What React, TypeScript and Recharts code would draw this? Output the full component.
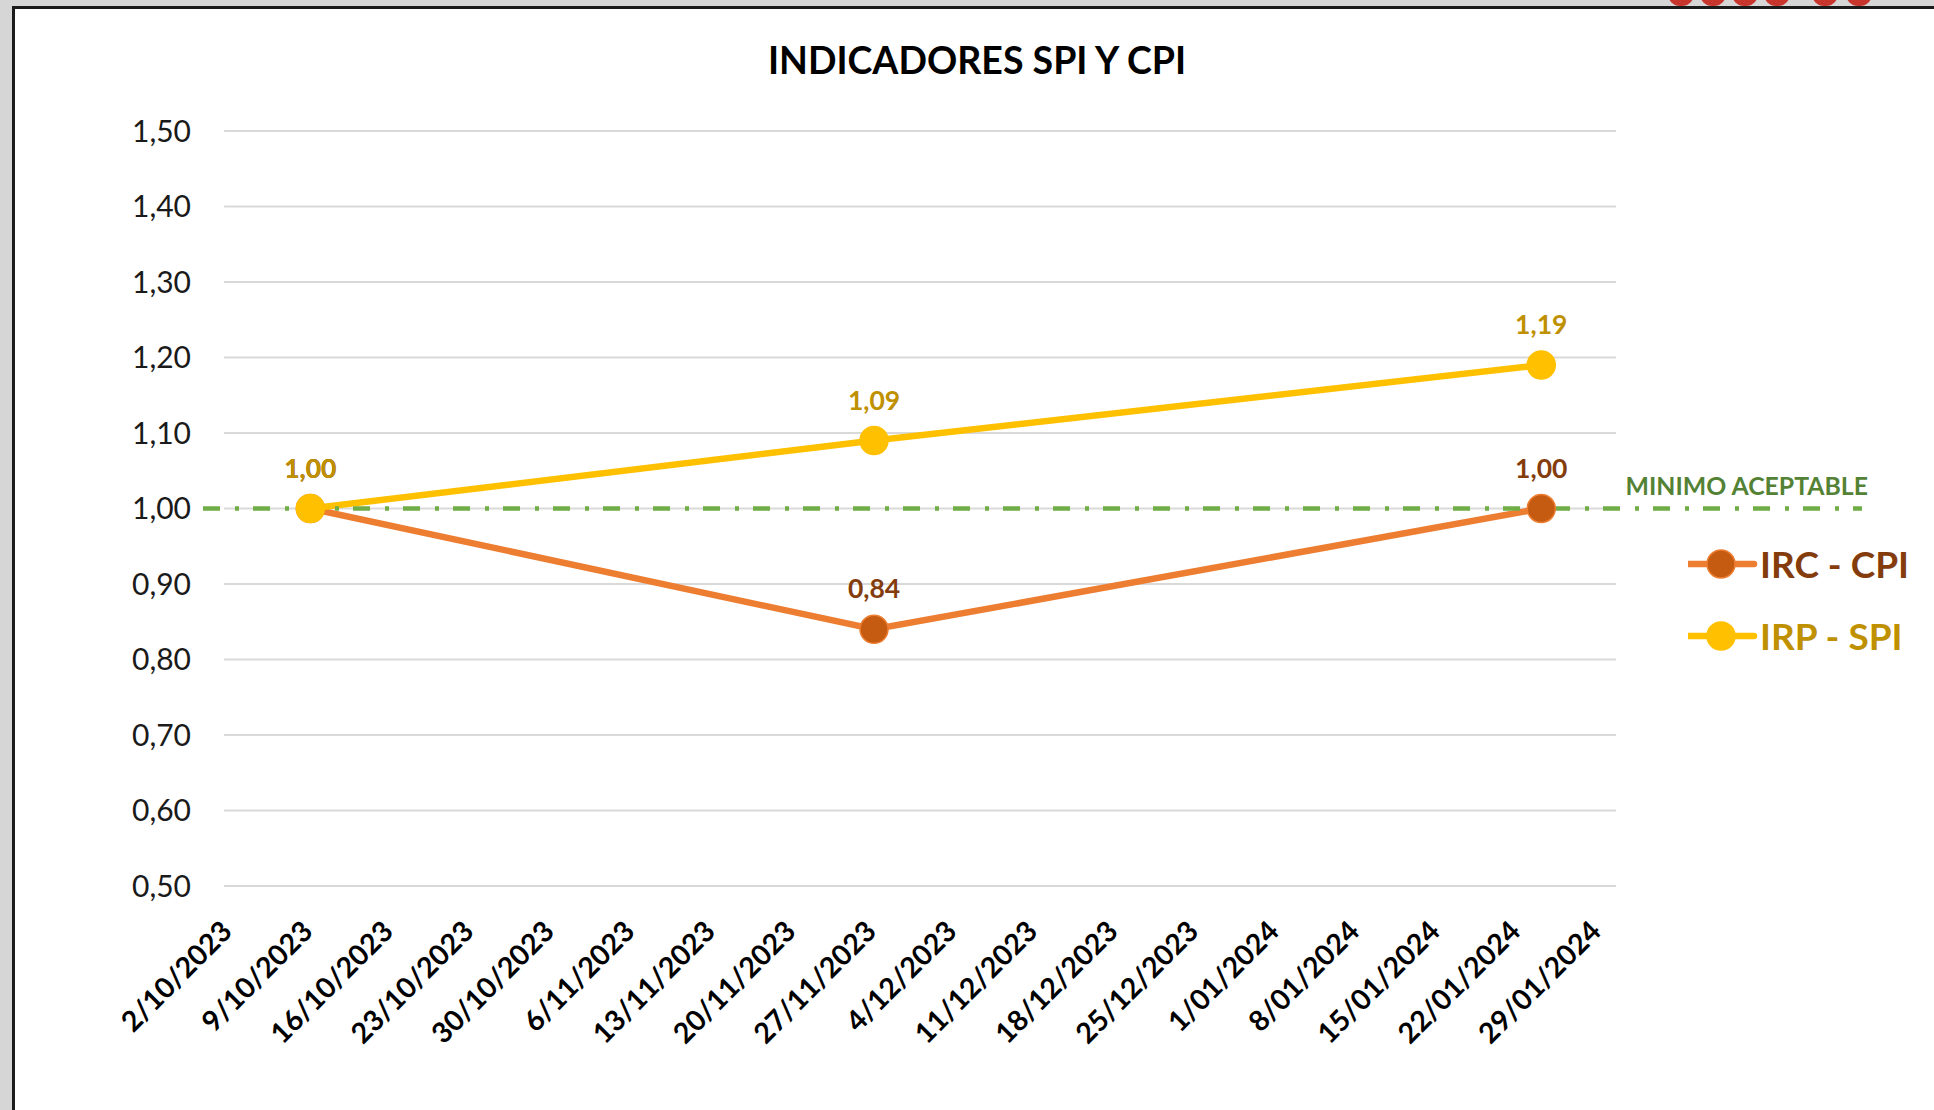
import React from 'react';
import { LineChart, Line, XAxis, YAxis, ReferenceLine, LabelList } from 'recharts';

// semanas del eje (lunes)
const etiquetasSemana = [
  '2/10/2023', '9/10/2023', '16/10/2023', '23/10/2023', '30/10/2023', '6/11/2023',
  '13/11/2023', '20/11/2023', '27/11/2023', '4/12/2023', '11/12/2023', '18/12/2023',
  '25/12/2023', '1/01/2024', '8/01/2024', '15/01/2024', '22/01/2024', '29/01/2024',
];
// fechas de corte y valores de los indicadores
const fechasCorte = ['9/10/2023', '27/11/2023', '24/01/2024'];
const ircCpi = [1.0, 0.84, 1.0];
const irpSpi = [1.0, 1.09, 1.19];
const yTicks = [0.5, 0.6, 0.7, 0.8, 0.9, 1.0, 1.1, 1.2, 1.3, 1.4, 1.5];
const minimoAceptable = 1.0;

// rango del eje en días desde el primer lunes
const dominioDias: [number, number] = [-2.33, 141.88];
const rangoGrilla: [number, number] = [-0.5, 120.5];

const FONT = 'Lato, "Open Sans", sans-serif';

function diasDesdeInicio(fecha: string) {
  const [d, m, a] = fecha.split('/').map(Number);
  const [d0, m0, a0] = etiquetasSemana[0].split('/').map(Number);
  return Math.round((Date.UTC(a, m - 1, d) - Date.UTC(a0, m0 - 1, d0)) / 86400000);
}

const tickDias = etiquetasSemana.map(diasDesdeInicio);
const datos = fechasCorte.map((f, i) => ({ dia: diasDesdeInicio(f), irc: ircCpi[i], irp: irpSpi[i] }));

const fmt = (v: number) => v.toFixed(2).replace('.', ',');

const series = [
  { key: 'irc', name: 'IRC - CPI', line: '#ED7D31', dot: '#C55A11', text: '#843C0C' },
  { key: 'irp', name: 'IRP - SPI', line: '#FFC000', dot: '#FFC000', text: '#BF9000' },
];

function XTick(props: any) {
  const { x, y, payload } = props;
  const idx = tickDias.indexOf(payload.value);
  const tx = x + 4;
  const ty = y + 47;
  return (
    <text x={tx} y={ty} transform={`rotate(-45, ${tx}, ${ty})`} textAnchor="end"
      fontFamily={FONT} fontWeight={700} fontSize={28.5} fill="#000">
      {idx >= 0 ? etiquetasSemana[idx] : ''}
    </text>
  );
}

// leyenda a la derecha, fuera del gráfico para no quitar alto al área de trazado
function Leyenda() {
  return (
    <div style={{ position: 'absolute', left: 1688, top: 528, fontFamily: FONT }}>
      {series.map((s) => (
        <div key={s.key} style={{ display: 'flex', alignItems: 'center', height: 72 }}>
          <svg width={70} height={40} style={{ marginRight: 2 }}>
            <line x1={0} x2={66} y1={20} y2={20} stroke={s.line} strokeWidth={6.5} strokeLinecap="round" />
            <circle cx={33} cy={20} r={14} fill={s.dot} stroke={s.line} strokeWidth={1.5} />
          </svg>
          <span style={{ color: s.text, fontWeight: 700, fontSize: 37, lineHeight: '40px' }}>{s.name}</span>
        </div>
      ))}
    </div>
  );
}

function EtiquetaMinimo(props: any) {
  const vb = props.viewBox || {};
  return (
    <text x={vb.x + vb.width + 6} y={vb.y - 14} textAnchor="end" fontFamily={FONT}
      fontWeight={700} fontSize={24.8} fill="#548235">
      MINIMO ACEPTABLE
    </text>
  );
}

export default function App() {
  return (
    <div style={{ position: 'absolute', left: 0, top: 0, width: 1934, height: 1110, overflow: 'hidden', background: '#d6d6d6' }}>
      {/* trozo del logo rojo que asoma arriba a la derecha */}
      {[1668, 1700, 1732, 1764, 1812, 1846].map((l) => (
        <div key={l} style={{ position: 'absolute', left: l, top: -18, width: 26, height: 24, borderRadius: 13, background: '#c8352d' }} />
      ))}
      <div style={{ position: 'absolute', left: 12, top: 6, right: -10, bottom: -10, background: '#fff', borderTop: '3px solid #1b1b1b', borderLeft: '3px solid #1b1b1b' }} />
      <div style={{ position: 'absolute', left: 0, top: 37, width: 1954, textAlign: 'center', fontFamily: FONT, fontWeight: 700, fontSize: 37.5, lineHeight: 1.2, color: '#000' }}>
        INDICADORES SPI Y CPI
      </div>
      <div style={{ position: 'absolute', left: 0, top: 0 }}>
        <LineChart width={1934} height={1110} data={datos} margin={{ top: 131, right: 72, bottom: 0, left: 0 }}>
          <XAxis type="number" dataKey="dia" domain={dominioDias} ticks={tickDias} interval={0}
            allowDataOverflow axisLine={false} tickLine={false} tickSize={0} tickMargin={0}
            height={224} tick={<XTick />} />
          <YAxis type="number" domain={[0.5, 1.5]} ticks={yTicks} interval={0} width={203}
            axisLine={false} tickLine={false} tickMargin={6} tickFormatter={fmt}
            tick={{ fontFamily: FONT, fontSize: 30, fill: '#1a1a1a' }} />
          {yTicks.map((t) => (
            <ReferenceLine key={t} segment={[{ x: rangoGrilla[0], y: t }, { x: rangoGrilla[1], y: t }]}
              stroke="#d9d9d9" strokeWidth={2} />
          ))}
          {series.map((s) => (
            <Line key={s.key} type="linear" dataKey={s.key} name={s.name} stroke={s.line} strokeWidth={6.5}
              dot={{ r: 14, fill: s.dot, stroke: s.line, strokeWidth: 1.5 }} activeDot={false}
              isAnimationActive={false}>
              <LabelList dataKey={s.key} position="top" offset={31} formatter={fmt as any}
                fill={s.text} fontFamily={FONT} fontWeight={700} fontSize={26.5} />
            </Line>
          ))}
          <ReferenceLine segment={[{ x: dominioDias[0], y: minimoAceptable }, { x: dominioDias[1], y: minimoAceptable }]}
            stroke="#70AD47" strokeWidth={4.5} strokeDasharray="17 15 4 14" label={<EtiquetaMinimo />} />
        </LineChart>
      </div>
      <Leyenda />
    </div>
  );
}
